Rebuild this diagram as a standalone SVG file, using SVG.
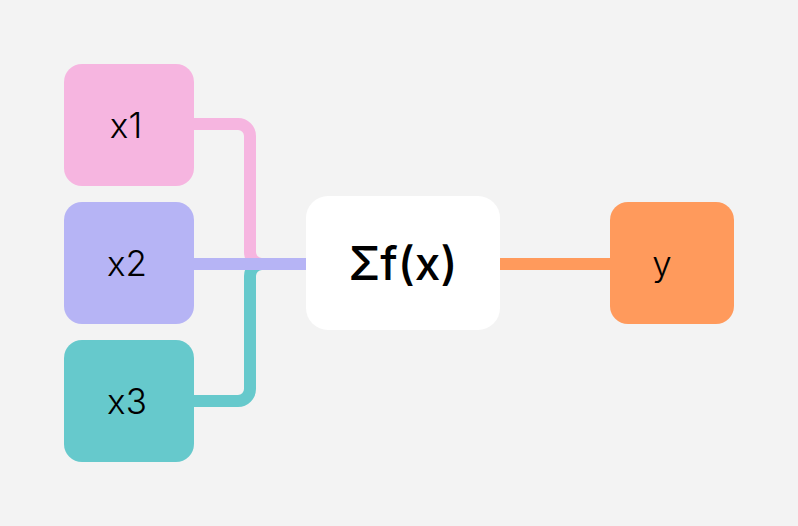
<svg xmlns="http://www.w3.org/2000/svg" width="798" height="526" viewBox="0 0 798 526">
<style>
.lbl{font-family:Inter,"Open Sans","Liberation Sans",sans-serif;font-size:35px;font-weight:300;fill:#000;text-anchor:middle}
.big{font-size:46px;font-weight:500}
.c{fill:none;stroke-width:12}
</style>
<rect width="798" height="526" fill="#f3f3f3"/>
<g id="connectors">
<path class="c" stroke="#f6b5e0" d="M190,124 H238 A12,12 0 0 1 250,136 V252 A12,12 0 0 0 262,264 H310"/>
<path class="c" stroke="#66c9cc" d="M190,401 H238 A12,12 0 0 0 250,389 V276 A12,12 0 0 1 262,264 H310"/>
<path class="c" stroke="#b6b4f5" d="M190,264 H310"/>
<path class="c" stroke="#ff9a5c" d="M496,264 H614"/>
</g>
<g id="x1"><rect x="64" y="64" width="130" height="122" rx="18" fill="#f6b5e0"/><text class="lbl" x="126" y="138">x1</text></g>
<g id="x2"><rect x="64" y="202" width="130" height="122" rx="18" fill="#b6b4f5"/><text class="lbl" x="127" y="276">x2</text></g>
<g id="x3"><rect x="64" y="340" width="130" height="122" rx="18" fill="#66c9cc"/><text class="lbl" x="127" y="414">x3</text></g>
<g id="sum"><rect x="306" y="196" width="194" height="134" rx="22" fill="#ffffff"/><text class="lbl big" x="403" y="280">Σf(x)</text></g>
<g id="y"><rect x="610" y="202" width="124" height="122" rx="18" fill="#ff9a5c"/><text class="lbl" x="662" y="276">y</text></g>
</svg>
